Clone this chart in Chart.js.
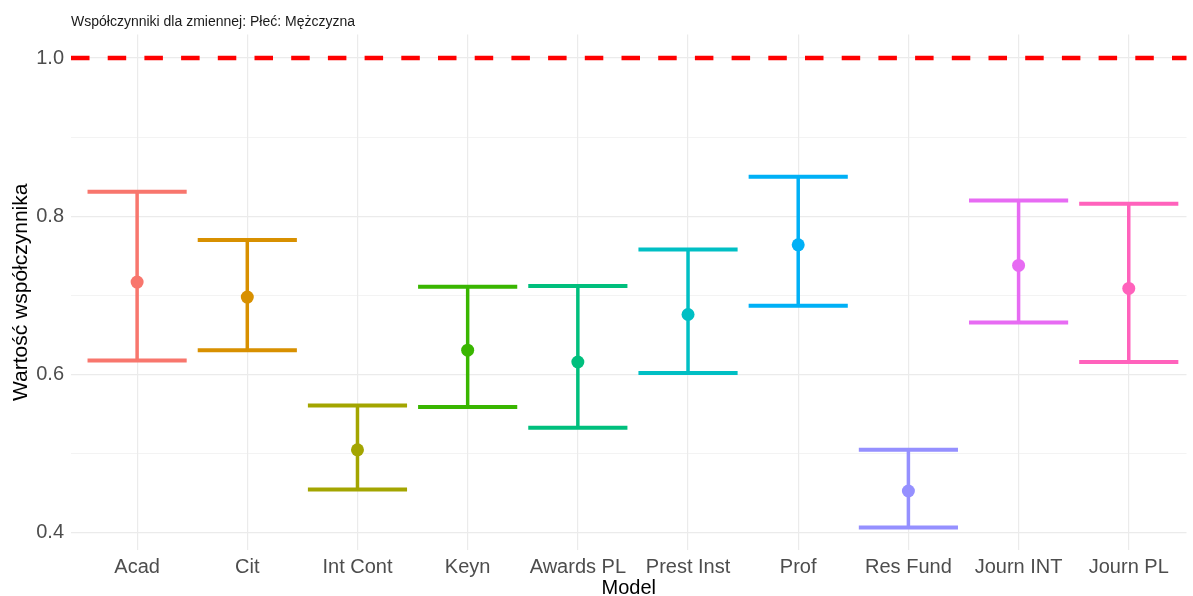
<!DOCTYPE html>
<html>
<head>
<meta charset="utf-8">
<script src="https://cdn.jsdelivr.net/npm/chart.js"></script>
<style>
  html, body { margin: 0; padding: 0; background: #fff; overflow: hidden; }
  canvas { display: block; }
</style>
</head>
<body>
<canvas id="coefChart" width="1193" height="596"></canvas>
<script>
// Współczynniki (punkt + przedział) dla każdego modelu
const models = ['Acad', 'Cit', 'Int Cont', 'Keyn', 'Awards PL', 'Prest Inst', 'Prof', 'Res Fund', 'Journ INT', 'Journ PL'];
const estimates = [0.717, 0.698, 0.505, 0.631, 0.616, 0.676, 0.764, 0.453, 0.738, 0.709];
const lower = [0.618, 0.631, 0.455, 0.559, 0.533, 0.602, 0.687, 0.407, 0.666, 0.616];
const upper = [0.831, 0.770, 0.561, 0.711, 0.712, 0.758, 0.850, 0.505, 0.820, 0.816];
const colors = ['#F8766D', '#D89000', '#A3A500', '#39B600', '#00BF7D', '#00BFC4', '#00B0F6', '#9590FF', '#E76BF3', '#FF62BC'];
const yTicks = [0.4, 0.5, 0.6, 0.7, 0.8, 0.9, 1.0];
const yMajor = [0.4, 0.6, 0.8, 1.0];
const refValue = 1.0;
const titleText = 'Współczynniki dla zmiennej: Płeć: Mężczyzna';

const FONT = "'Liberation Sans', Arial, sans-serif";

// linia odniesienia i słupki błędów rysowane przez skale wykresu
const errorBars = {
  id: 'errorBars',
  beforeDatasetsDraw(chart) {
    const { ctx, chartArea, scales: { x, y } } = chart;
    const step = x.getPixelForValue(1) - x.getPixelForValue(0);
    ctx.save();

    // przerywana linia na 1.0
    const yr = y.getPixelForValue(refValue);
    ctx.strokeStyle = '#FF0000';
    ctx.lineWidth = 4.5;
    ctx.setLineDash([18.5, 18.2]);
    ctx.lineDashOffset = 0;
    ctx.beginPath();
    ctx.moveTo(chartArea.left, yr);
    ctx.lineTo(chartArea.right, yr);
    ctx.stroke();
    ctx.setLineDash([]);

    models.forEach((m, i) => {
      const cx = x.getPixelForValue(i);
      const yl = y.getPixelForValue(lower[i]);
      const yu = y.getPixelForValue(upper[i]);
      const half = step * 0.45;
      ctx.strokeStyle = colors[i];
      ctx.lineCap = 'butt';
      ctx.lineWidth = 3.5;
      ctx.beginPath();
      ctx.moveTo(cx, yl);
      ctx.lineTo(cx, yu);
      ctx.stroke();
      ctx.lineWidth = 4;
      ctx.beginPath();
      ctx.moveTo(cx - half, yu);
      ctx.lineTo(cx + half, yu);
      ctx.moveTo(cx - half, yl);
      ctx.lineTo(cx + half, yl);
      ctx.stroke();
    });
    ctx.restore();
  }
};

// tytuł nad panelem, wyrównany do lewej krawędzi panelu
const plotTitle = {
  id: 'plotTitle',
  afterDraw(chart) {
    const { ctx, chartArea } = chart;
    ctx.save();
    ctx.font = '14px ' + FONT;
    ctx.fillStyle = '#1a1a1a';
    ctx.textAlign = 'left';
    ctx.textBaseline = 'middle';
    ctx.fillText(titleText, chartArea.left, 22);
    ctx.restore();
  }
};

new Chart(document.getElementById('coefChart'), {
  type: 'scatter',
  data: {
    datasets: [{
      data: estimates.map((v, i) => ({ x: i, y: v })),
      pointBackgroundColor: colors,
      pointBorderColor: colors,
      pointRadius: 6.5,
      pointHoverRadius: 6.5,
      borderWidth: 0
    }]
  },
  options: {
    responsive: false,
    animation: false,
    layout: { padding: { top: 34.6, right: 0, bottom: 0, left: 0 } },
    plugins: { legend: { display: false }, tooltip: { enabled: false } },
    scales: {
      x: {
        type: 'linear',
        min: -0.6,
        max: 9.524,
        afterBuildTicks: s => { s.ticks = models.map((m, i) => ({ value: i })); },
        afterFit: s => { s.height = 46; s.paddingLeft = 0; s.paddingRight = 0; },
        ticks: {
          autoSkip: false,
          maxRotation: 0,
          padding: 5,
          color: '#4D4D4D',
          font: { family: FONT, size: 20 },
          callback: v => models[v]
        },
        grid: { color: '#EBEBEB', lineWidth: 1.2, drawTicks: false },
        border: { display: false },
        title: {
          display: true,
          text: 'Model',
          color: '#000000',
          font: { family: FONT, size: 20, lineHeight: 0.8 },
          padding: 0
        }
      },
      y: {
        min: 0.3785,
        max: 1.0296,
        afterBuildTicks: s => { s.ticks = yTicks.map(v => ({ value: v })); },
        afterFit: s => { s.width = 71; s.paddingTop = 0; s.paddingBottom = 0; },
        ticks: {
          padding: 7,
          color: '#4D4D4D',
          font: { family: FONT, size: 20 },
          callback: v => yMajor.includes(v) ? v.toFixed(1) : ''
        },
        grid: {
          color: '#EBEBEB',
          lineWidth: c => (c.tick && yMajor.includes(c.tick.value)) ? 1.2 : 0.6,
          drawTicks: false
        },
        border: { display: false },
        title: {
          display: true,
          text: 'Wartość współczynnika',
          color: '#000000',
          font: { family: FONT, size: 21, lineHeight: 1.2 },
          padding: { top: 9, bottom: 0 }
        }
      }
    }
  },
  plugins: [errorBars, plotTitle]
});
</script>
</body>
</html>
